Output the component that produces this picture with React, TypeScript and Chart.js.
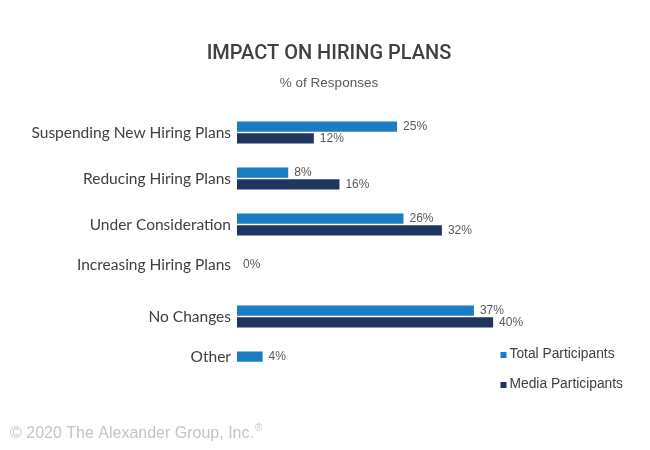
import React, { useEffect, useRef } from "react";
import { Chart, registerables } from "chart.js";

Chart.register(...registerables);

const categories = [
  "Suspending New Hiring Plans",
  "Reducing Hiring Plans",
  "Under Consideration",
  "Increasing Hiring Plans",
  "No Changes",
  "Other",
];
const totalParticipants: (number | null)[] = [25, 8, 26, 0, 37, 4];
const mediaParticipants: (number | null)[] = [12, 16, 32, null, 40, null];
const seriesNames = ["Total Participants", "Media Participants"];
const seriesColors = ["#1a7cc3", "#1f3460"];
const titleText = "IMPACT ON HIRING PLANS";
const subtitleText = "% of Responses";
const footerText = "© 2020 The Alexander Group, Inc.";

const valueLabels = {
  id: "valueLabels",
  afterDatasetsDraw(chart: any) {
    const ctx = chart.ctx;
    ctx.save();
    ctx.font = "12px 'Liberation Sans', Arial, sans-serif";
    ctx.fillStyle = "#595959";
    ctx.textAlign = "left";
    ctx.textBaseline = "middle";
    chart.data.datasets.forEach((ds: any, di: number) => {
      const meta = chart.getDatasetMeta(di);
      meta.data.forEach((el: any, i: number) => {
        const v = ds.data[i];
        if (v === null || v === undefined) return;
        ctx.fillText(`${v}%`, el.x + 6, el.y + 0.5);
      });
    });
    ctx.restore();
  },
};

const customLegendFooter = {
  id: "customLegendFooter",
  afterDraw(chart: any) {
    const ctx = chart.ctx;
    ctx.save();
    ctx.font = "13.8px 'Liberation Sans', Arial, sans-serif";
    ctx.textAlign = "left";
    ctx.textBaseline = "middle";
    const ys = [354.5, 384.5];
    chart.data.datasets.forEach((ds: any, di: number) => {
      const y = ys[di];
      ctx.fillStyle = ds.backgroundColor;
      ctx.fillRect(500.5, y - 2.5, 6, 6);
      ctx.fillStyle = "#404040";
      ctx.fillText(ds.label, 509.5, y);
    });
    ctx.fillStyle = "#c4c4c4";
    ctx.textBaseline = "alphabetic";
    ctx.font = "16px 'Liberation Sans', Arial, sans-serif";
    ctx.fillText(footerText, 10, 438);
    const w = ctx.measureText(footerText).width;
    ctx.font = "10px 'Liberation Sans', Arial, sans-serif";
    ctx.fillText("®", 10 + w + 1, 431);
    ctx.restore();
  },
};

// categories with only one series show their label beside the single bar
const singleSeries = (i: number) => mediaParticipants[i] === null;

export default function App() {
  const ref = useRef<HTMLCanvasElement | null>(null);
  useEffect(() => {
    if (!ref.current) return;
    const chart = new Chart(ref.current, {
      type: "bar",
      data: {
        labels: categories,
        datasets: [
          {
            label: seriesNames[0],
            data: totalParticipants,
            backgroundColor: seriesColors[0],
            categoryPercentage: 0.51,
            barPercentage: 0.88,
          },
          {
            label: seriesNames[1],
            data: mediaParticipants,
            backgroundColor: seriesColors[1],
            categoryPercentage: 0.51,
            barPercentage: 0.88,
          },
        ],
      },
      options: {
        indexAxis: "y",
        animation: false,
        responsive: false,
        maintainAspectRatio: false,
        layout: { padding: { left: 8, right: 0, top: 0, bottom: 64.5 } },
        scales: {
          x: {
            display: false,
            min: 0,
            max: 64.5,
          },
          y: {
            grid: { display: false, drawTicks: false },
            border: { display: false },
            ticks: {
              padding: 6,
              color: "#404040",
              font: (c: any) => ({
                family: "Lato, 'Liberation Sans', sans-serif",
                size: 15.5,
                lineHeight: singleSeries(c.index) ? "11px" : 1.2,
              }),
              callback(this: any, value: any, index: number) {
                const lbl = this.getLabelForValue(value);
                return singleSeries(index) ? [lbl, ""] : lbl;
              },
            },
            afterFit(scale: any) {
              scale.width = 229;
            },
          },
        },
        plugins: {
          legend: { display: false },
          tooltip: { enabled: false },
          title: {
            display: true,
            text: titleText,
            color: "#404040",
            font: { family: "Roboto, sans-serif", size: 20, weight: "500", lineHeight: 1.2 },
            padding: { top: 41.5, bottom: 0 },
          },
          subtitle: {
            display: true,
            text: subtitleText,
            color: "#595959",
            font: { family: "'Liberation Sans', Arial, sans-serif", size: 13.5, lineHeight: 1.2 },
            padding: { top: 10, bottom: 17.8 },
          },
        },
      },
      plugins: [valueLabels, customLegendFooter],
    });
    return () => chart.destroy();
  }, []);
  return (
    <div style={{ position: "fixed", left: 0, top: 0, width: 650, height: 450, background: "#fff" }}>
      <canvas ref={ref} width={650} height={450} style={{ width: 650, height: 450, display: "block" }} />
    </div>
  );
}
